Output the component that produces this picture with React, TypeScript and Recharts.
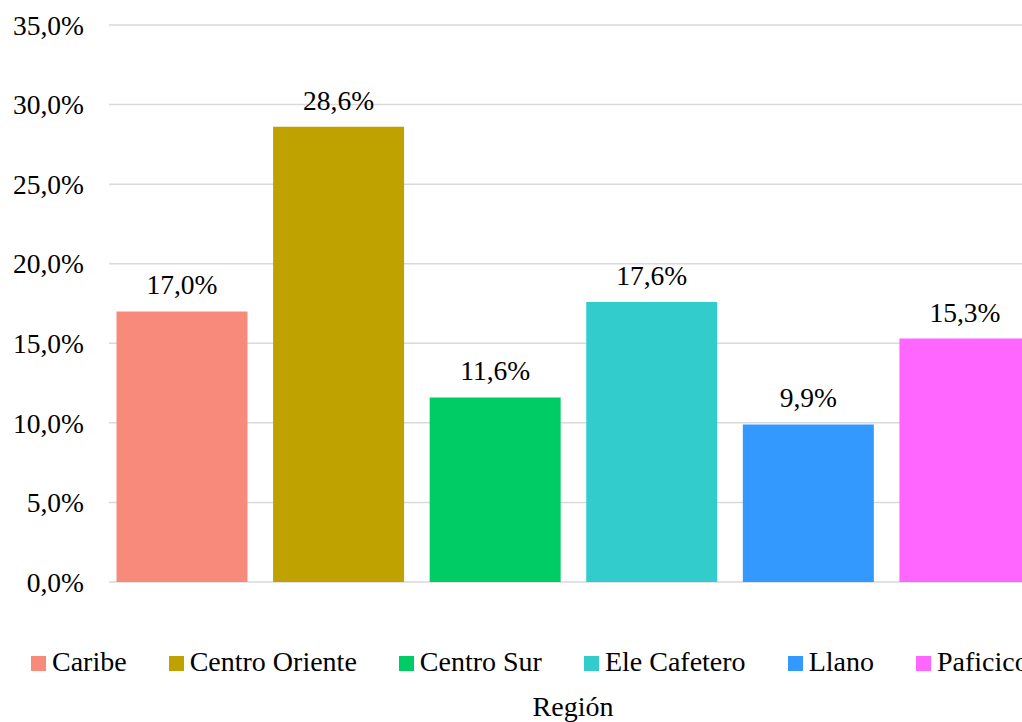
import React from 'react';
import { BarChart, Bar, XAxis, YAxis, CartesianGrid, Cell, LabelList, Legend } from 'recharts';

const regions = ['Caribe', 'Centro Oriente', 'Centro Sur', 'Ele Cafetero', 'Llano', 'Paficico'];
const shares = [17.0, 28.6, 11.6, 17.6, 9.9, 15.3];
const colors = ['#F88A7C', '#BFA100', '#00CC66', '#33CCCC', '#3399FF', '#FF66FF'];
const yTicks = [0, 5, 10, 15, 20, 25, 30, 35];
const axisTitle = 'Región';

const data = regions.map((r, i) => ({ region: r, value: shares[i] }));

const fmt = (v: number) => v.toFixed(1).replace('.', ',') + '%';
const FONT = '"Liberation Serif", "Times New Roman", Tinos, Times, serif';
const css = `#root, #root *, #root svg text, #root svg tspan { font-family: ${FONT} !important; }`;

const renderLegend = () => (
  <div style={{ display: 'flex', whiteSpace: 'nowrap', fontFamily: FONT, fontSize: 28, lineHeight: '28px', color: '#000' }}>
    {regions.map((r, i) => (
      <div key={r} style={{ marginRight: 42, whiteSpace: 'nowrap', fontFamily: FONT }}>
        <span style={{ display: 'inline-block', width: 15, height: 15, background: colors[i], marginRight: 6 }} />
        {r}
      </div>
    ))}
  </div>
);

export default function App() {
  return (
    <div style={{ position: 'fixed', left: 0, top: 0, width: 1022, height: 722, overflow: 'hidden', background: '#fff', fontFamily: FONT }}>
      <style>{css}</style>
      <BarChart
        width={1043}
        height={722}
        data={data}
        margin={{ top: 25, right: 0, bottom: 10, left: 0 }}
        style={{ fontFamily: FONT }}
      >
        <CartesianGrid vertical={false} stroke="#d9d9d9" strokeWidth={1.5} />
        <XAxis
          dataKey="region"
          tick={false}
          tickLine={false}
          axisLine={false}
          height={130}
          padding={{ left: -5.5, right: 0 }}
          label={{ value: axisTitle, position: 'insideBottom', offset: -4, dx: -3, fill: '#000', fontSize: 28, fontFamily: FONT }}
        />
        <YAxis
          domain={[0, 35]}
          ticks={yTicks}
          tickFormatter={fmt}
          axisLine={false}
          tickLine={false}
          tickSize={0}
          tickMargin={25}
          width={109}
          tick={{ fill: '#000', fontSize: 27.5, fontFamily: FONT }}
          interval={0}
        />
        <Legend
          layout="horizontal"
          verticalAlign="middle"
          align="center"
          content={renderLegend}
          wrapperStyle={{ position: 'absolute', left: 31, top: 648, width: 'auto', height: 'auto', fontFamily: FONT }}
        />
        <Bar dataKey="value" barSize={131} isAnimationActive={false}>
          {data.map((d, i) => (
            <Cell key={d.region} fill={colors[i]} />
          ))}
          <LabelList
            dataKey="value"
            position="top"
            offset={17}
            formatter={(v: any) => fmt(Number(v))}
            fill="#000"
            fontSize={27.5}
            fontFamily={FONT}
          />
        </Bar>
      </BarChart>
    </div>
  );
}
